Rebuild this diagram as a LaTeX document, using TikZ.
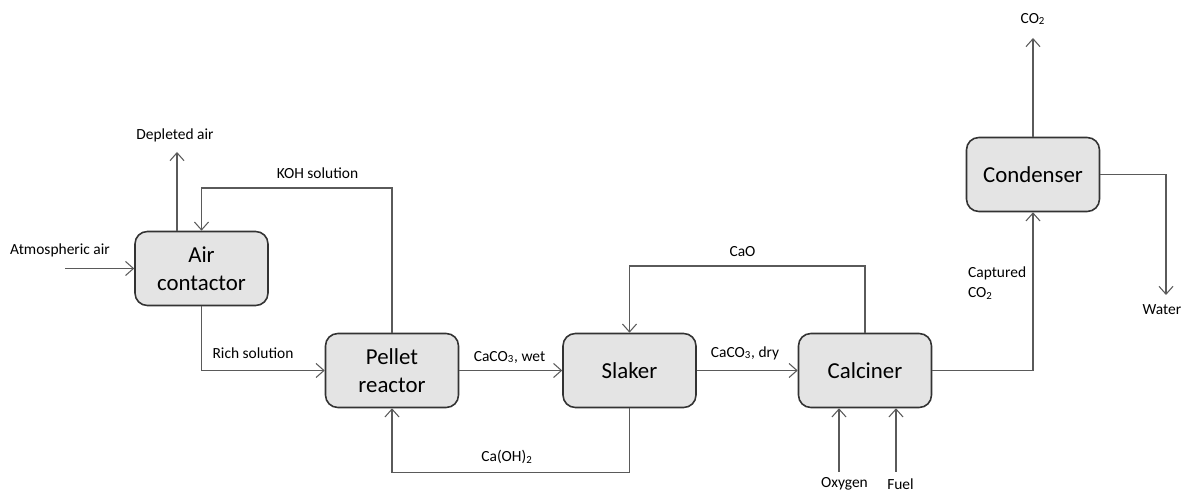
\documentclass[tikz,border=0pt]{standalone}
\usepackage{fontspec}
\setmainfont{Carlito}
\usepackage{tikz}
\usetikzlibrary{shapes,arrows,arrows.meta}
\definecolor{linegray}{HTML}{5A5A5A}
\definecolor{boxfill}{HTML}{E4E4E4}
\tikzstyle{line} = [draw=linegray, line width=0.6pt, -{Straight Barb[length=4.5pt,width=8pt]}]
\tikzstyle{unit} = [draw=black!80, fill=boxfill, line width=0.9pt, rounded corners=7pt,
  minimum width=2.66cm, minimum height=1.48cm, align=center, font=\fontsize{13}{16}\selectfont]
\tikzstyle{lbl} = [font=\fontsize{8.8}{11.5}\selectfont, inner sep=1pt]

\begin{document}
\begin{tikzpicture}
  [x=0.02cm,y=-0.02cm]
  \useasboundingbox (0,0) rectangle (1181,493);
  % process units
  \node[unit] (aircon) at (201.5,268.5) {Air\\contactor};
  \node[unit] (pellet) at (392,370.5) {Pellet\\reactor};
  \node[unit] (slaker) at (629.5,370.5) {Slaker};
  \node[unit] (calciner) at (865,370.5) {Calciner};
  \node[unit] (condenser) at (1033,174.5) {Condenser};

  % free ends
  \coordinate (atm) at (65,268.5);
  \coordinate (depl) at (177,152);
  \coordinate (co2) at (1033,38);
  \coordinate (water) at (1166,295);
  \coordinate (oxy) at (839,472);
  \coordinate (fuel) at (896,472);

  \path [line] (atm) -- (aircon.west);
  \path [line] (depl |- aircon.north) -- (depl);
  \path [line] (pellet.north) -- (pellet.north |- 0,188) -| (aircon.north);
  \path [line] (aircon.south) |- (pellet.west);
  \path [line] (pellet) -- (slaker);
  \path [line] (slaker.south) -- ++(0,64.5) -| (pellet.south);
  \path [line] (calciner.north) -- (calciner.north |- 0,266) -| (slaker.north);
  \path [line] (slaker) -- (calciner);
  \path [line] (calciner.east) -| (condenser.south);
  \path [line] (condenser.north) -- (co2);
  \path [line] (condenser.east) -| (water);
  \path [line] (oxy) -- (oxy |- calciner.south);
  \path [line] (fuel) -- (fuel |- calciner.south);

  % stream labels
  \node[lbl] (l_atm) at (60,250) {Atmospheric air};
  \node[lbl] (l_depl) at (175,135) {Depleted air};
  \node[lbl] (l_koh) at (317.5,173) {KOH solution};
  \node[lbl] (l_rich) at (253,353) {Rich solution};
  \node[lbl] (l_wet) at (509.5,357) {CaCO\textsubscript{3}, wet};
  \node[lbl] (l_oh) at (507,457) {Ca(OH)\textsubscript{2}};
  \node[lbl] (l_cao) at (742.5,252) {CaO};
  \node[lbl] (l_dry) at (745,353) {CaCO\textsubscript{3}, dry};
  \node[lbl, align=left, anchor=west] (l_capt) at (966,283) {Captured\\CO\textsubscript{2}};
  \node[lbl] (l_co2) at (1033,19) {CO\textsubscript{2}};
  \node[lbl] (l_water) at (1162,310) {Water};
  \node[lbl] (l_oxy) at (844.5,484) {Oxygen};
  \node[lbl] (l_fuel) at (900.5,484) {Fuel};
\end{tikzpicture}
\end{document}
